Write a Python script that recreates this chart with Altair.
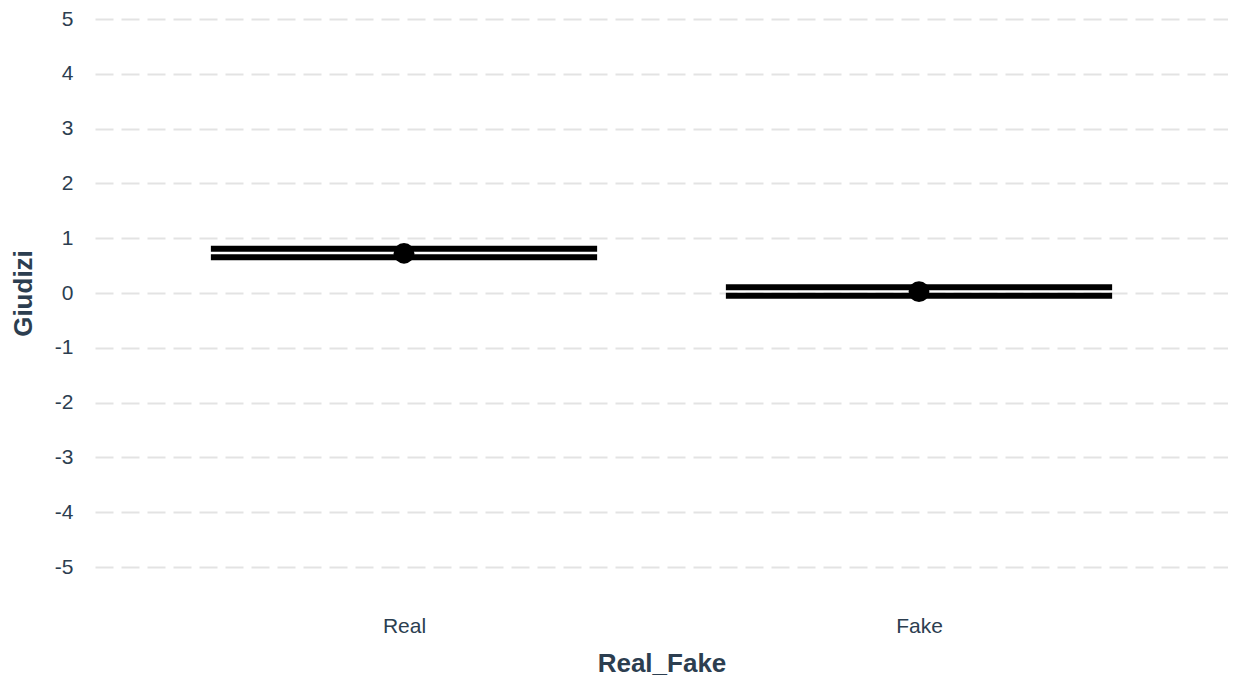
import altair as alt
import pandas as pd

categories = ["Real", "Fake"]
means = [0.725, 0.024]
lower = [0.652, -0.049]
upper = [0.809, 0.106]
y_ticks = [-5, -4, -3, -2, -1, 0, 1, 2, 3, 4, 5]

df = pd.DataFrame({"Real_Fake": categories, "mean": means, "lo": lower, "hi": upper})

W = 1133
H = 548
step = W / 2.2
FONT = "Liberation Sans"
TXT = "#2c3e50"

x_enc = alt.X(
    "Real_Fake:N",
    sort=categories,
    title="Real_Fake",
    scale=alt.Scale(type="point", padding=0.6),
    axis=alt.Axis(
        labelAngle=0, ticks=False, domain=False, grid=False,
        labelPadding=59, labelBaseline="middle", labelFontSize=21,
        titleFontSize=26, titleFontWeight="bold", titleY=96, titleBaseline="middle",
        labelColor=TXT, titleColor=TXT, labelFont=FONT, titleFont=FONT,
    ),
)
y_scale = alt.Scale(domain=[-5, 5], nice=False, zero=False)
y_axis = alt.Axis(
    values=y_ticks, ticks=False, domain=False, grid=True,
    gridDash=[18, 8], gridColor="#e3e3e3", gridWidth=2,
    labelExpr="'' + datum.value",
    labelPadding=22, labelFontSize=21, labelColor=TXT, labelFont=FONT,
    title="Giudizi", titleFontSize=26, titleFontWeight="bold", titleColor=TXT,
    titleFont=FONT, titleX=-72, titleY=H / 2, titleAngle=270,
    titleBaseline="middle", titleAlign="center",
)

base = alt.Chart(df)

vline = base.mark_rule(color="black", strokeWidth=6).encode(
    x=x_enc,
    y=alt.Y("lo:Q", scale=y_scale, axis=y_axis),
    y2="hi:Q",
)
top = base.mark_tick(color="black", thickness=6, size=step * 0.75, opacity=1).encode(
    x=x_enc, y=alt.Y("hi:Q", scale=y_scale, axis=y_axis)
)
bot = base.mark_tick(color="black", thickness=6, size=step * 0.75, opacity=1).encode(
    x=x_enc, y=alt.Y("lo:Q", scale=y_scale, axis=y_axis)
)
pt = base.mark_point(filled=True, color="black", size=430, opacity=1).encode(
    x=x_enc, y=alt.Y("mean:Q", scale=y_scale, axis=y_axis)
)

chart = (
    alt.layer(vline, top, bot, pt)
    .properties(
        width=W, height=H,
        autosize=alt.AutoSizeParams(type="none"),
        padding={"left": 87, "top": 11, "right": 0, "bottom": 110},
        background="white",
    )
    .configure_view(stroke=None)
)

chart.save("out.html", embed_options={"renderer": "svg", "actions": False})
